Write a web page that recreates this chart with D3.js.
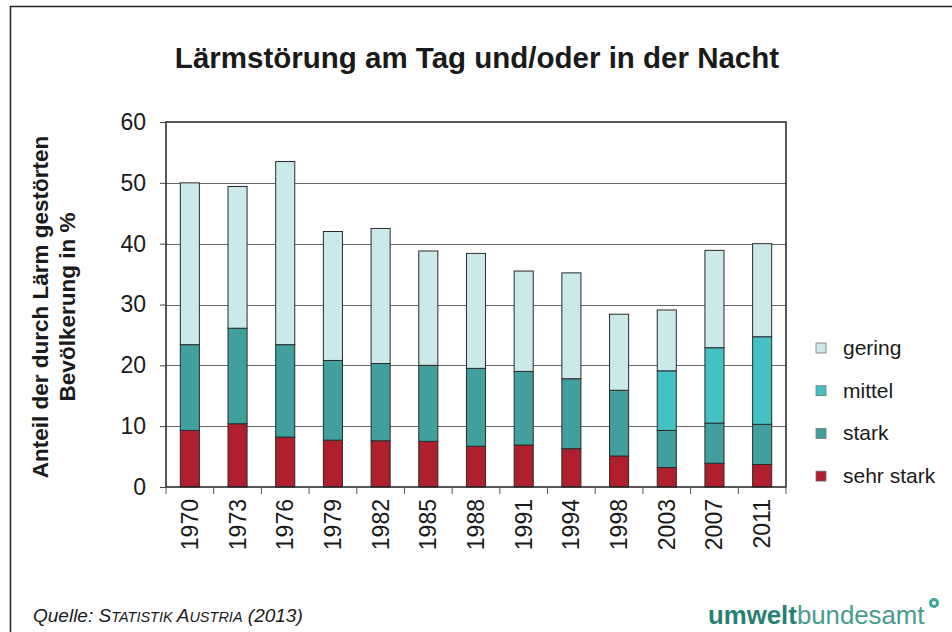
<!DOCTYPE html>
<html>
<head>
<meta charset="utf-8">
<script src="https://cdn.jsdelivr.net/npm/d3@7"></script>
<style>
  body { margin: 0; background: #fff; }
  text { font-family: "Liberation Sans", Arial, sans-serif; }
</style>
</head>
<body>
<svg id="chart" width="952" height="632"></svg>
<script>
// data
const years = ["1970", "1973", "1976", "1979", "1982", "1985", "1988", "1991", "1994", "1998", "2003", "2007", "2011"];
const sehrStark = [9.3, 10.4, 8.2, 7.7, 7.6, 7.5, 6.7, 6.9, 6.3, 5.1, 3.2, 3.9, 3.7];
const stark = [14.1, 15.7, 15.2, 13.1, 12.7, 12.5, 12.8, 12.1, 11.5, 10.8, 6.1, 6.6, 6.6];
const mittel = [0, 0, 0, 0, 0, 0, 0, 0, 0, 0, 9.8, 12.4, 14.4];
const gering = [26.6, 23.3, 30.1, 21.2, 22.2, 18.8, 18.9, 16.5, 17.4, 12.5, 10.0, 16.0, 15.3];
const yTicks = [0, 10, 20, 30, 40, 50, 60];

const seriesKeys = ["sehr stark", "stark", "mittel", "gering"];
const seriesColors = { "sehr stark": "#b01f2d", "stark": "#41a09e", "mittel": "#44c1c4", "gering": "#cce9e9" };

const rows = years.map((y, i) => ({
  year: y,
  "sehr stark": sehrStark[i],
  "stark": stark[i],
  "mittel": mittel[i],
  "gering": gering[i]
}));

const svg = d3.select("#chart");
const margin = { left: 166, top: 122, right: 166, bottom: 145 };
const width = 952 - margin.left - margin.right;
const height = 632 - margin.top - margin.bottom;

// outer frame (top and left only)
svg.append("path")
  .attr("d", "M10.5,632 V6.5 H952")
  .attr("fill", "none")
  .attr("stroke", "#222")
  .attr("stroke-width", 1.5);

svg.append("text")
  .attr("x", 477).attr("y", 68)
  .attr("text-anchor", "middle")
  .attr("font-size", 29.5).attr("font-weight", "bold")
  .attr("fill", "#1a1a1a")
  .text("Lärmstörung am Tag und/oder in der Nacht");

const g = svg.append("g").attr("transform", `translate(${margin.left},${margin.top})`);

const x = d3.scaleBand().domain(years).range([0, width]).paddingInner(0.6).paddingOuter(0.3);
const xTick = d3.scaleBand().domain(years).range([0, width]);
const y = d3.scaleLinear().domain([0, 60]).range([height, 0]);

// gridlines
g.selectAll(".grid")
  .data(yTicks.filter(d => d > 0 && d < 60))
  .join("line")
    .attr("class", "grid")
    .attr("x1", 0).attr("x2", width)
    .attr("y1", d => Math.round(y(d)) + 0.5).attr("y2", d => Math.round(y(d)) + 0.5)
    .attr("stroke", "#666").attr("stroke-width", 1);

const stacked = d3.stack().keys(seriesKeys)(rows);

g.selectAll(".layer")
  .data(stacked)
  .join("g")
    .attr("class", "layer")
    .attr("fill", d => seriesColors[d.key])
  .selectAll("rect")
  .data(d => d.filter(s => s[1] - s[0] > 0))
  .join("rect")
    .attr("x", d => x(d.data.year))
    .attr("y", d => y(d[1]))
    .attr("width", x.bandwidth())
    .attr("height", d => y(d[0]) - y(d[1]))
    .attr("stroke", "#2a2a2a")
    .attr("stroke-width", 1);

// plot frame
g.append("rect")
  .attr("x", 0).attr("y", 0)
  .attr("width", width).attr("height", height)
  .attr("fill", "none").attr("stroke", "#222").attr("stroke-width", 1.5);

// y axis
const yAxis = g.append("g")
  .call(d3.axisLeft(y).tickValues(yTicks).tickSize(6).tickPadding(14));
yAxis.select(".domain").remove();
yAxis.selectAll("line").attr("stroke", "#444");
yAxis.selectAll("text").attr("font-size", 23).attr("fill", "#1a1a1a")
  .style("font-family", "'Liberation Sans', Arial, sans-serif");

// x axis ticks at category boundaries
g.selectAll(".xtick")
  .data(years.slice(1).map(d => xTick(d)).concat([0, width]))
  .join("line")
    .attr("class", "xtick")
    .attr("x1", d => d).attr("x2", d => d)
    .attr("y1", height).attr("y2", height + 7)
    .attr("stroke", "#555");

g.selectAll(".xlabel")
  .data(years)
  .join("text")
    .attr("class", "xlabel")
    .attr("transform", d => `translate(${x(d) + x.bandwidth() / 2 + 8},${height + 12}) rotate(-90)`)
    .attr("text-anchor", "end")
    .attr("font-size", 23).attr("fill", "#1a1a1a")
    .text(d => d);

// y axis title
const yTitle = svg.append("text")
  .attr("transform", "translate(0,307) rotate(-90)")
  .attr("text-anchor", "middle")
  .attr("font-size", 22.5).attr("font-weight", "bold").attr("fill", "#1a1a1a");
yTitle.append("tspan").attr("x", 0).attr("y", 48).text("Anteil der durch Lärm gestörten");
yTitle.append("tspan").attr("x", 0).attr("y", 75).text("Bevölkerung in %");

// legend
const legendKeys = ["gering", "mittel", "stark", "sehr stark"];
const legend = svg.append("g").attr("transform", "translate(816,348)");
const items = legend.selectAll("g")
  .data(legendKeys)
  .join("g")
    .attr("transform", (d, i) => `translate(0,${i * 42.7})`);
items.append("rect")
  .attr("x", 0).attr("y", -5).attr("width", 10).attr("height", 10)
  .attr("fill", d => seriesColors[d]).attr("stroke", "#777").attr("stroke-width", 0.8);
items.append("text")
  .attr("x", 27).attr("y", 7)
  .attr("font-size", 21).attr("fill", "#1a1a1a")
  .text(d => d);

// source
const src = svg.append("text")
  .attr("x", 33).attr("y", 622)
  .attr("font-size", 19).attr("font-style", "italic").attr("fill", "#1a1a1a");
src.append("tspan").text("Quelle: S");
src.append("tspan").attr("font-size", 14.5).text("TATISTIK ");
src.append("tspan").text("A");
src.append("tspan").attr("font-size", 14.5).text("USTRIA");
src.append("tspan").text(" (2013)");

// logo
const logo = svg.append("text")
  .attr("x", 708).attr("y", 624)
  .attr("font-size", 25.8).attr("font-family", "'DejaVu Sans', sans-serif");
logo.append("tspan").attr("font-weight", "bold").attr("fill", "#2a7f74").text("umwelt");
logo.append("tspan").attr("fill", "#4a9a8e").text("bundesamt");
svg.append("circle").attr("cx", 934).attr("cy", 603).attr("r", 5).attr("fill", "#3aa89a");
svg.append("circle").attr("cx", 934).attr("cy", 603).attr("r", 2).attr("fill", "#fff");
</script>
</body>
</html>
